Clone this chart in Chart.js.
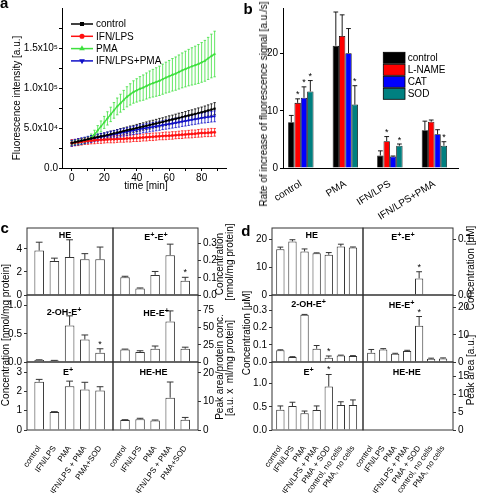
<!DOCTYPE html>
<html><head><meta charset="utf-8">
<script src="https://cdn.jsdelivr.net/npm/chart.js"></script>
<style>
html,body{margin:0;padding:0;background:#fff;}
body{position:relative;width:477px;height:493px;overflow:hidden;font-family:'Liberation Sans',Arial,sans-serif;color:#000;}
canvas{position:absolute;}
.t{position:absolute;white-space:nowrap;line-height:1;}
.t sup{font-size:80%;line-height:0;vertical-align:0.4em;}
</style></head><body>
<script>
// ---------- Panel a data ----------
const aTime = [0,2,4,6,8,10,12,14,16,18,20,22,24,26,28,30,32,34,36,38,40,42,44,46,48,50,52,54,56,58,60,62,64,66,68,70,72,74,76,78,80,82,84,86,88];
const aControl = [31300,32300,33200,34200,35100,36000,37000,37900,38800,39600,40400,41400,42300,43300,44200,45200,46200,47100,48100,49000,50000,50900,51900,52800,53800,54800,55700,56700,57600,58600,59600,60600,61600,62600,63600,64600,65600,66600,67600,68600,69600,70700,71900,73000,74200];
const aControlErr = [2600,2500,2800,2700,3000,2900,3200,3100,3300,3500,3400,3600,3800,3700,3900,4100,4000,4200,4400,4300,4500,4700,4600,4800,5000,4900,5100,5300,5200,5400,5600,5500,5700,5900,5800,6000,6200,6100,6300,6500,6600,6800,7000,7200,7500];
const aIFN = [31300,31800,32300,32800,33300,33800,34200,34600,34900,35200,35400,35600,35800,36000,36200,36400,36600,36900,37100,37300,37500,37800,38100,38400,38700,39000,39300,39600,39900,40200,40400,40700,41000,41400,41700,42000,42300,42600,42900,43300,43700,43900,44100,44400,44600];
const aIFNErr = [4200,4000,4300,4100,3900,4200,4000,4300,4100,4400,4200,4000,4300,4500,4200,4100,4400,4300,4600,4200,4400,4500,4300,4600,4400,4700,4500,4300,4600,4800,4500,4700,4400,4600,4800,4500,4700,4900,4600,4800,5000,4700,4900,5100,4800];
const aPMA = [31300,31800,32300,33000,34000,35500,38000,42000,47000,52000,57000,62000,67000,72000,77000,81000,85000,89000,92000,95000,97000,99000,100500,102500,104500,106000,107500,109000,111000,113000,114600,116500,118000,120000,122000,123700,125500,127000,128500,130000,132000,134000,137000,140000,142500];
const aPMAErr = [3000,3100,3200,3400,3600,3900,4500,5200,6000,6800,7500,8300,9000,9800,10500,11200,12000,12600,13300,14000,14600,15200,15800,16300,16800,17300,17800,18300,18800,19300,19800,20300,20800,21300,21800,22300,22800,23300,23800,24300,24800,25500,26300,27300,28500];
const aBoth = [31000,31900,32800,33700,34500,35400,36300,37200,38000,38800,39600,40400,41300,42100,42900,43800,44600,45400,46200,47000,47900,48600,49300,50000,50700,51400,52100,52800,53600,54300,55000,55700,56500,57200,58000,58700,59500,60200,61000,61700,62500,63000,63600,64100,64600];
const aBothErr = [3800,3900,4000,4100,4000,4200,4300,4200,4400,4500,4400,4600,4700,4600,4800,4900,4800,5000,5100,5000,5200,5300,5200,5400,5500,5400,5600,5700,5600,5800,5900,5800,6000,6100,6000,6200,6300,6200,6400,6500,6400,6600,6700,6600,6800];
const aSeriesNames = ['control','IFN/LPS','PMA','IFN/LPS+PMA'];
const aXTicks = [0,10,20,30,40,50,60,70,80,90];
const aXLabels = ['0','','20','','40','','60','','80',''];
const aYTicks = [0,25000,50000,75000,100000,125000,150000,175000];
const aYLabels = ['0.0','','5.0x10\u2074','','1.0x10\u2075','','1.5x10\u2075',''];

// ---------- Panel b data ----------
const bGroups = ['control','PMA','IFN/LPS','IFN/LPS+PMA'];
const bSeriesNames = ['control','L-NAME','CAT','SOD'];
const bControl = [8.0, 21.4, 2.2, 6.6];
const bLNAME   = [11.4, 23.1, 4.7, 8.1];
const bCAT     = [12.3, 20.1, 2.0, 5.9];
const bSOD     = [13.4, 11.1, 3.9, 3.9];
const bControlErr = [1.2, 5.9, 0.8, 1.6];
const bLNAMEErr   = [0.7, 3.7, 0.8, 0.3];
const bCATErr     = [1.9, 4.3, 0.1, 0.8];
const bSODErr     = [1.9, 3.3, 0.3, 0.7];
const bControlStar = [0,0,0,0];
const bLNAMEStar   = [1,0,1,0];
const bCATStar     = [1,0,0,0];
const bSODStar     = [1,1,1,1];
const bYTicks = [0,10,20];
const bYLabels = ['0','10','20'];

// ---------- Panel c data ----------
const cCats = ['control','IFN/LPS','PMA','IFN/LPS + PMA','PMA+SOD'];
const cHE = [3.85, 2.95, 3.28, 3.1, 3.1];
const cHEErr = [0.72, 0.24, 1.5, 0.48, 1.05];
const cHEStar = [0,0,0,0,0];
const cEE = [0.103, 0.038, 0.117, 0.232, 0.083];
const cEEErr = [0.006, 0.003, 0.02, 0.064, 0.02];
const cEEStar = [0,0,0,0,1];
const cOH = [0.035, 0.025, 0.65, 0.40, 0.165];
const cOHErr = [0.004, 0.004, 0.17, 0.08, 0.07];
const cOHStar = [0,0,0,0,1];
const cHEE = [18.3, 14.4, 19.3, 59.2, 19.3];
const cHEEErr = [0.5, 2, 4, 15.3, 2.3];
const cHEEStar = [0,0,0,0,0];
const cE = [2.5, 0.93, 2.27, 2.1, 2.04];
const cEErr = [0.12, 0.02, 0.26, 0.37, 0.2];
const cEStar = [0,0,0,0,0];
const cHEHE = [3.5, 3.8, 3.3, 11.3, 3.6];
const cHEHEErr = [0.1, 0.3, 0.2, 5.5, 0.8];
const cHEHEStar = [0,0,0,0,0];
const cHETicks = [0,2,4], cHELabels = ['0','2','4'];
const cEETicks = [0,0.1,0.2,0.3], cEELabels = ['0.0','0.1','0.2','0.3'];
const cOHTicks = [0,0.5,1.0], cOHLabels = ['0.0','0.5','1.0'];
const cHEETicks = [0,25,50,75], cHEELabels = ['0','25','50','75'];
const cETicks = [0,1,2,3], cELabels = ['0','1','2','3'];
const cHEHETicks = [0,10,20], cHEHELabels = ['0','10','20'];

// ---------- Panel d data ----------
const dCats = ['control','IFN/LPS','PMA','IFN/LPS + PMA','PMA + SOD','control, no cells','PMA, no cells'];
const dHE = [16.4, 19.2, 15.6, 15.0, 14.4, 17.4, 17.0];
const dHEErr = [0.75, 0.6, 0.9, 0.1, 0.8, 0.8, 0.2];
const dHEStar = [0,0,0,0,0,0,0];
const dEE = [null, null, null, null, 0.030, null, null];
const dEEErr = [0,0,0,0,0.012,0,0];
const dEEStar = [0,0,0,0,1,0,0];
const dOH = [0.068, 0.029, 0.275, 0.077, 0.025, 0.038, 0.035];
const dOHErr = [0.003, 0.002, 0.002, 0.019, 0.01, 0.002, 0.002];
const dOHStar = [0,0,0,0,1,0,0];
const dHEE = [3.4, 4.6, 3.0, 4.0, 13.3, 1.2, 1.3];
const dHEEErr = [1.2, 0.3, 0.2, 0.3, 3.4, 0.2, 0.2];
const dHEEStar = [0,0,0,0,1,0,0];
const dE = [0.44, 0.52, 0.36, 0.43, 0.94, 0.54, 0.54];
const dEErr = [0.08, 0.08, 0.05, 0.09, 0.26, 0.07, 0.11];
const dEStar = [0,0,0,0,1,0,0];
const dHEHE = [null, null, null, null, null, null, null];
const dHEHEErr = [0,0,0,0,0,0,0];
const dHEHEStar = [0,0,0,0,0,0,0];
const dHETicks = [0,10,20], dHELabels = ['0','10','20'];
const dEETicks = [0,0.1], dEELabels = ['0.0','0.1'];
const dOHTicks = [0,0.1,0.2,0.3], dOHLabels = ['0.0','0.1','0.2','0.3'];
const dHEETicks = [0,10,20], dHEELabels = ['0','10','20'];
const dETicks = [0,0.5,1.0], dELabels = ['0.0','0.5','1.0'];
const dHEHETicks = [0,5,10,15], dHEHELabels = ['0','5','10','15'];

// ---------- setup ----------
const FONT = "'Liberation Sans', Arial, sans-serif";
Chart.defaults.font.family = FONT;
Chart.defaults.font.size = 10;
Chart.defaults.color = '#000';
Chart.defaults.animation = false;
Chart.defaults.plugins.legend.display = false;
Chart.defaults.plugins.tooltip.enabled = false;

const DECO = {};
function drawErrors(chart, d) {
  const ctx = chart.ctx;
  chart.data.datasets.forEach((ds, i) => {
    if (!ds.errs) return;
    const meta = chart.getDatasetMeta(i);
    const ys = chart.scales[meta.yAxisID];
    ctx.save();
    ctx.strokeStyle = ds.errColor; ctx.lineWidth = d.errWidth;
    meta.data.forEach((el, j) => {
      const v = ds.data[j].y, e = ds.errs[j];
      if (v == null) return;
      const x = el.x;
      const yTop = ys.getPixelForValue(v + e);
      const yBot = d.both ? ys.getPixelForValue(v - e) : ys.getPixelForValue(v);
      const c = d.capPx != null ? d.capPx : el.width * d.capFrac;
      if (e > 0) {
        ctx.beginPath();
        ctx.moveTo(x, yBot); ctx.lineTo(x, yTop);
        ctx.moveTo(x - c / 2, yTop); ctx.lineTo(x + c / 2, yTop);
        if (d.both) { ctx.moveTo(x - c / 2, yBot); ctx.lineTo(x + c / 2, yBot); }
        ctx.stroke();
      }
      if (ds.stars && ds.stars[j]) {
        ctx.fillStyle = '#000'; ctx.font = d.starFont; ctx.textAlign = 'center'; ctx.textBaseline = 'alphabetic';
        ctx.fillText('*', x, yTop - d.starGap);
      }
    });
    ctx.restore();
  });
}
Chart.register({
  id: 'deco',
  beforeDatasetsDraw(chart) { const d = DECO[chart.canvas.id]; if (d && d.errBefore) drawErrors(chart, d); },
  afterDatasetsDraw(chart) { const d = DECO[chart.canvas.id]; if (d && !d.errBefore) drawErrors(chart, d); },
  afterDraw(chart) {
    const d = DECO[chart.canvas.id]; if (!d) return;
    const ctx = chart.ctx, a = chart.chartArea;
    if (d.box) { ctx.save(); ctx.strokeStyle = d.box; ctx.lineWidth = 1; ctx.strokeRect(a.left, a.top, a.right - a.left, a.bottom - a.top); ctx.restore(); }
    if (d.legend) d.legend(chart, ctx);
  }
});

function addCanvas(id, left, top, w, h) {
  const cv = document.createElement('canvas');
  cv.id = id; cv.width = w; cv.height = h;
  cv.style.left = left + 'px'; cv.style.top = top + 'px';
  document.body.appendChild(cv);
  return cv;
}
function txt(html, x, y, o) {
  o = o || {};
  const d = document.createElement('div'); d.className = 't'; d.innerHTML = html;
  d.style.fontSize = (o.size || 10) + 'px';
  if (o.bold) d.style.fontWeight = 'bold';
  d.style.left = x + 'px'; d.style.top = y + 'px';
  d.style.transform = 'translate(-50%,-50%)' + (o.rot ? ' rotate(-90deg)' : '');
  document.body.appendChild(d);
}
function fixedTicks(vals, labels) {
  return {
    afterBuildTicks: s => { s.ticks = vals.map(v => ({ value: v })); },
    callback: (v, i) => labels[i]
  };
}

// ---------- Panel a ----------
(function () {
  const cv = addCanvas('pa', 0, 0, 240, 200);
  const sets = [
    { name: aSeriesNames[0], v: aControl, e: aControlErr, color: '#000000', ps: 'rect', rot: 0 },
    { name: aSeriesNames[1], v: aIFN, e: aIFNErr, color: '#ff1010', ps: 'circle', rot: 0 },
    { name: aSeriesNames[2], v: aPMA, e: aPMAErr, color: '#3ee03e', ps: 'triangle', rot: 0 },
    { name: aSeriesNames[3], v: aBoth, e: aBothErr, color: '#1010c8', ps: 'triangle', rot: 180 }
  ];
  DECO.pa = {
    errBefore: true, both: true, errWidth: 0.8, capPx: 2.4,
    legend: (chart, ctx) => {
      chart.data.datasets.forEach((ds, i) => {
        const y = 24 + i * 12.3;
        ctx.save();
        ctx.strokeStyle = ds.borderColor; ctx.lineWidth = 1.5;
        ctx.beginPath(); ctx.moveTo(71, y); ctx.lineTo(93, y); ctx.stroke();
        ctx.fillStyle = ds.borderColor;
        Chart.helpers.drawPoint(ctx, { pointStyle: ds.pointStyle, rotation: ds.pointRotation, radius: 1.8, borderWidth: 0.5 }, 82, y);
        ctx.fillStyle = '#000'; ctx.font = '10px ' + FONT; ctx.textAlign = 'left'; ctx.textBaseline = 'middle';
        ctx.fillText(ds.label, 96, y + 0.5);
        ctx.restore();
      });
    }
  };
  const xt = fixedTicks(aXTicks, aXLabels), yt = fixedTicks(aYTicks, aYLabels);
  new Chart(cv, {
    type: 'line',
    data: {
      datasets: sets.map(s => ({
        label: s.name, data: aTime.map((t, i) => ({ x: t, y: s.v[i] })),
        errs: s.e, errColor: s.color,
        borderColor: s.color, backgroundColor: s.color, borderWidth: 1.5,
        pointRadius: 1.2, pointStyle: s.ps, pointRotation: s.rot, pointBorderWidth: 0.5, tension: 0
      }))
    },
    options: {
      devicePixelRatio: 1, responsive: false,
      layout: { padding: { top: 8, right: 14, left: 0, bottom: 0 } },
      scales: {
        x: {
          type: 'linear', min: -6, max: 95, afterFit: s => { s.height = 32; },
          afterBuildTicks: xt.afterBuildTicks,
          ticks: { callback: xt.callback, autoSkip: false, maxRotation: 0, padding: 1, font: { size: 10 } },
          grid: { drawOnChartArea: false, tickLength: 3, color: '#000' }, border: { color: '#000' }
        },
        y: {
          type: 'linear', min: 0, max: 200000, afterFit: s => { s.width = 62; },
          afterBuildTicks: yt.afterBuildTicks,
          ticks: { callback: yt.callback, autoSkip: false, padding: 1, font: { size: 10 } },
          grid: { drawOnChartArea: false, tickLength: 3, color: '#000' }, border: { color: '#000' }
        }
      }
    }
  });
})();

// ---------- Panel b ----------
(function () {
  const cv = addCanvas('pb', 240, 0, 237, 240);
  const sets = [
    { name: bSeriesNames[0], v: bControl, e: bControlErr, s: bControlStar, color: '#000000' },
    { name: bSeriesNames[1], v: bLNAME, e: bLNAMEErr, s: bLNAMEStar, color: '#ff0000' },
    { name: bSeriesNames[2], v: bCAT, e: bCATErr, s: bCATStar, color: '#0000ff' },
    { name: bSeriesNames[3], v: bSOD, e: bSODErr, s: bSODStar, color: '#008080' }
  ];
  DECO.pb = {
    errBefore: false, both: false, errWidth: 0.9, capFrac: 0.75, starFont: '9px ' + FONT, starGap: 1.5,
    legend: (chart, ctx) => {
      chart.data.datasets.forEach((ds, i) => {
        const y = 52.3 + i * 12;
        ctx.save();
        ctx.fillStyle = ds.backgroundColor; ctx.fillRect(143.3, y, 21.7, 11);
        ctx.strokeStyle = '#000'; ctx.lineWidth = 0.8; ctx.strokeRect(143.3, y, 21.7, 11);
        ctx.fillStyle = '#000'; ctx.font = '10px ' + FONT; ctx.textAlign = 'left'; ctx.textBaseline = 'middle';
        ctx.fillText(ds.label, 167.7, y + 6);
        ctx.restore();
      });
    }
  };
  const xt = fixedTicks([1, 2, 3, 4], bGroups), yt = fixedTicks(bYTicks, bYLabels);
  new Chart(cv, {
    type: 'bar',
    data: {
      datasets: sets.map(s => ({
        label: s.name, data: bGroups.map((g, i) => ({ x: i + 1, y: s.v[i] })),
        errs: s.e, stars: s.s, errColor: '#000',
        backgroundColor: s.color, borderColor: '#000', borderWidth: 0.8,
        categoryPercentage: 0.57, barPercentage: 1
      }))
    },
    options: {
      devicePixelRatio: 1, responsive: false,
      layout: { padding: { top: 7, right: 19, left: 0, bottom: 0 } },
      scales: {
        x: {
          type: 'linear', offset: false, min: 0.6, max: 4.53, afterFit: s => { s.height = 72; },
          afterBuildTicks: xt.afterBuildTicks,
          ticks: { callback: xt.callback, autoSkip: false, minRotation: 32, maxRotation: 32, padding: 2, font: { size: 10 } },
          grid: { display: false }, border: { color: '#000' }
        },
        y: {
          type: 'linear', min: 0, max: 28, afterFit: s => { s.width = 43; },
          afterBuildTicks: yt.afterBuildTicks,
          ticks: { callback: yt.callback, autoSkip: false, padding: 2, font: { size: 10 } },
          grid: { drawOnChartArea: false, tickLength: 3, color: '#000' }, border: { color: '#000' }
        }
      }
    }
  });
})();

// ---------- Panels c & d sub-panels ----------
function makeSub(id, area, o) {
  const ML = 40, MR = 50, MT = 12, MB = 75;
  const cl = Math.floor(area.l) - ML, ct = Math.floor(area.t) - MT;
  const cw = Math.ceil(area.r) + MR - cl, ch = Math.ceil(area.b) + MB - ct;
  const inL = area.l - cl, inR = cl + cw - area.r, inT = area.t - ct, inB = ct + ch - area.b;
  const cv = addCanvas(id, cl, ct, cw, ch);
  DECO[id] = { box: '#333', errBefore: false, both: false, errWidth: 1, capFrac: 0.7, starFont: '9px ' + FONT, starGap: 2 };
  const right = o.side === 'right';
  const xt = fixedTicks(o.cats.map((c, i) => i + 1), o.cats), yt = fixedTicks(o.yt, o.yl);
  new Chart(cv, {
    type: 'bar',
    data: {
      datasets: [{
        data: o.vals.map((v, i) => ({ x: i + 1, y: v })), errs: o.errs, stars: o.stars, errColor: '#333',
        backgroundColor: '#fff', borderColor: '#333', borderWidth: 1,
        categoryPercentage: o.cat, barPercentage: 1
      }]
    },
    options: {
      devicePixelRatio: 1, responsive: false,
      layout: { padding: { left: right ? inL : 0, right: right ? 0 : inR, top: inT, bottom: o.showX ? 0 : inB } },
      scales: {
        x: {
          type: 'linear', offset: false, min: o.xmin, max: o.xmax, display: !!o.showX, position: 'bottom',
          afterFit: s => { s.height = o.showX ? inB : 0; },
          afterBuildTicks: xt.afterBuildTicks,
          ticks: { callback: xt.callback, autoSkip: false, minRotation: 55, maxRotation: 55, padding: 6, font: { size: 8 } },
          grid: { display: false }, border: { display: false }
        },
        y: {
          type: 'linear', position: right ? 'right' : 'left', min: 0, max: o.ymax,
          afterFit: s => { s.width = right ? inR : inL; },
          afterBuildTicks: yt.afterBuildTicks,
          ticks: { callback: yt.callback, autoSkip: false, padding: 2, font: { size: 10 } },
          grid: { drawOnChartArea: false, tickLength: 3, color: '#333' }, border: { display: false }
        }
      }
    }
  });
}
const cRows = [228, 295, 362, 430];
const cCols = [27, 113, 198];
const dCols = [272, 363, 453];
const cX = { cats: cCats, xmin: 0.2, xmax: 5.85, cat: 0.63 };
const dX = { cats: dCats, xmin: 0.31, xmax: 7.83, cat: 0.69 };
function A(cols, c, r) { return { l: cols[c], r: cols[c + 1], t: cRows[r], b: cRows[r + 1] }; }

makeSub('c1L', A(cCols, 0, 0), Object.assign({ side: 'left', vals: cHE, errs: cHEErr, stars: cHEStar, ymax: 5.8, yt: cHETicks, yl: cHELabels }, cX));
makeSub('c1R', A(cCols, 1, 0), Object.assign({ side: 'right', vals: cEE, errs: cEEErr, stars: cEEStar, ymax: 0.39, yt: cEETicks, yl: cEELabels }, cX));
makeSub('c2L', A(cCols, 0, 1), Object.assign({ side: 'left', vals: cOH, errs: cOHErr, stars: cOHStar, ymax: 1.19, yt: cOHTicks, yl: cOHLabels }, cX));
makeSub('c2R', A(cCols, 1, 1), Object.assign({ side: 'right', vals: cHEE, errs: cHEEErr, stars: cHEEStar, ymax: 97.7, yt: cHEETicks, yl: cHEELabels }, cX));
makeSub('c3L', A(cCols, 0, 2), Object.assign({ side: 'left', showX: true, vals: cE, errs: cEErr, stars: cEStar, ymax: 3.52, yt: cETicks, yl: cELabels }, cX));
makeSub('c3R', A(cCols, 1, 2), Object.assign({ side: 'right', showX: true, vals: cHEHE, errs: cHEHEErr, stars: cHEHEStar, ymax: 23.8, yt: cHEHETicks, yl: cHEHELabels }, cX));

makeSub('d1L', A(dCols, 0, 0), Object.assign({ side: 'left', vals: dHE, errs: dHEErr, stars: dHEStar, ymax: 24, yt: dHETicks, yl: dHELabels }, dX));
makeSub('d1R', A(dCols, 1, 0), Object.assign({ side: 'right', vals: dEE, errs: dEEErr, stars: dEEStar, ymax: 0.121, yt: dEETicks, yl: dEELabels }, dX));
makeSub('d2L', A(dCols, 0, 1), Object.assign({ side: 'left', vals: dOH, errs: dOHErr, stars: dOHStar, ymax: 0.39, yt: dOHTicks, yl: dOHLabels }, dX));
makeSub('d2R', A(dCols, 1, 1), Object.assign({ side: 'right', vals: dHEE, errs: dHEEErr, stars: dHEEStar, ymax: 24.6, yt: dHEETicks, yl: dHEELabels }, dX));
makeSub('d3L', A(dCols, 0, 2), Object.assign({ side: 'left', showX: true, vals: dE, errs: dEErr, stars: dEStar, ymax: 1.47, yt: dETicks, yl: dELabels }, dX));
makeSub('d3R', A(dCols, 1, 2), Object.assign({ side: 'right', showX: true, vals: dHEHE, errs: dHEHEErr, stars: dHEHEStar, ymax: 19, yt: dHEHETicks, yl: dHEHELabels }, dX));

// ---------- text ----------
txt('a', 4.2, 2.4, { size: 15, bold: true });
txt('b', 248, 7.8, { size: 15, bold: true });
txt('c', 4.6, 226.6, { size: 15, bold: true });
txt('d', 245.8, 229.8, { size: 15, bold: true });

txt('Fluorescence intensity [a.u.]', 17, 98, { rot: true });
txt('time [min]', 146, 185.5);
txt('Rate of increase of fluorescence signal [a.u./s]', 263.6, 104, { rot: true });

txt('Concentration [nmol/mg protein]', 5.5, 335, { rot: true });
txt('Concentration', 220, 264, { rot: true });
txt('[nmol/mg protein]', 230, 262, { rot: true });
txt('Peak area/protein conc.', 220, 367, { rot: true });
txt('[a.u. x&nbsp; ml/mg protein]', 230, 368, { rot: true });
txt('Concentration [\u03bcM]', 247, 333, { rot: true });
txt('Concentration [\u03bcM]', 471, 268, { rot: true });
txt('Peak area [a.u.]', 471, 370, { rot: true });

const T = { size: 9, bold: true };
txt('HE', 65, 235, T);
txt('E<sup>+</sup>-E<sup>+</sup>', 156, 236.5, T);
txt('2-OH-E<sup>+</sup>', 64, 312, T);
txt('HE-E<sup>+</sup>', 156, 313, T);
txt('E<sup>+</sup>', 68, 372, T);
txt('HE-HE', 153.5, 372, T);
txt('HE', 311.7, 235, T);
txt('E<sup>+</sup>-E<sup>+</sup>', 403, 236.5, T);
txt('2-OH-E<sup>+</sup>', 308.5, 304, T);
txt('HE-E<sup>+</sup>', 401.7, 305, T);
txt('E<sup>+</sup>', 308.5, 372, T);
txt('HE-HE', 406.7, 372, T);
</script>
</body></html>
